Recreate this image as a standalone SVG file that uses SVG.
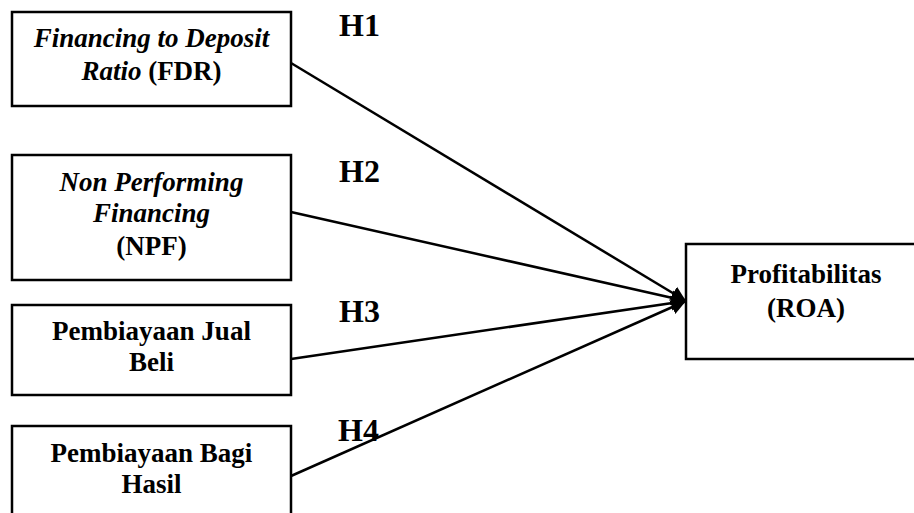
<svg xmlns="http://www.w3.org/2000/svg" width="914" height="513" viewBox="0 0 914 513">
<style>
.box{fill:#fff;stroke:#000;stroke-width:2.5}
.t{font-family:"Liberation Serif","Times New Roman",serif;font-weight:bold;font-size:27px;fill:#000;text-anchor:middle}
.i{font-style:italic}
.h{font-family:"Liberation Serif","Times New Roman",serif;font-weight:bold;font-size:32px;fill:#000}
.c{stroke:#000;stroke-width:2.5;fill:none;marker-end:url(#ah)}
</style>
<defs>
<marker id="ah" viewBox="0 0 10 10" refX="10" refY="5" markerWidth="6" markerHeight="7" markerUnits="strokeWidth" orient="auto">
<path d="M0,0 L10,5 L0,10 z" fill="#000"/>
</marker>
</defs>
<rect width="914" height="513" fill="#fff"/>
<g id="connectors">
<line class="c" x1="291" y1="63" x2="686" y2="301"/>
<line class="c" x1="291" y1="212" x2="686" y2="301"/>
<line class="c" x1="291" y1="359" x2="686" y2="301"/>
<line class="c" x1="291" y1="476" x2="686" y2="301"/>
</g>
<g id="fdr">
<rect class="box" x="12" y="12" width="279" height="94"/>
<text class="t i" x="151.5" y="47">Financing to Deposit</text>
<text class="t" x="151.5" y="80"><tspan class="i">Ratio</tspan> (FDR)</text>
</g>
<g id="npf">
<rect class="box" x="12" y="155" width="279" height="125"/>
<text class="t i" x="151.5" y="191">Non Performing</text>
<text class="t i" x="151.5" y="222">Financing</text>
<text class="t" x="151.5" y="255">(NPF)</text>
</g>
<g id="jualbeli">
<rect class="box" x="12" y="305" width="279" height="90"/>
<text class="t" x="151.5" y="340">Pembiayaan Jual</text>
<text class="t" x="151.5" y="371">Beli</text>
</g>
<g id="bagihasil">
<rect class="box" x="12" y="426" width="279" height="110"/>
<text class="t" x="151.5" y="462">Pembiayaan Bagi</text>
<text class="t" x="151.5" y="493">Hasil</text>
</g>
<g id="roa">
<rect class="box" x="686" y="244" width="240" height="115"/>
<text class="t" x="806" y="283">Profitabilitas</text>
<text class="t" x="806" y="317">(ROA)</text>
</g>
<g id="labels">
<text class="h" x="339" y="36">H1</text>
<text class="h" x="339" y="182">H2</text>
<text class="h" x="339" y="322">H3</text>
<text class="h" x="338" y="441">H4</text>
</g>
</svg>
